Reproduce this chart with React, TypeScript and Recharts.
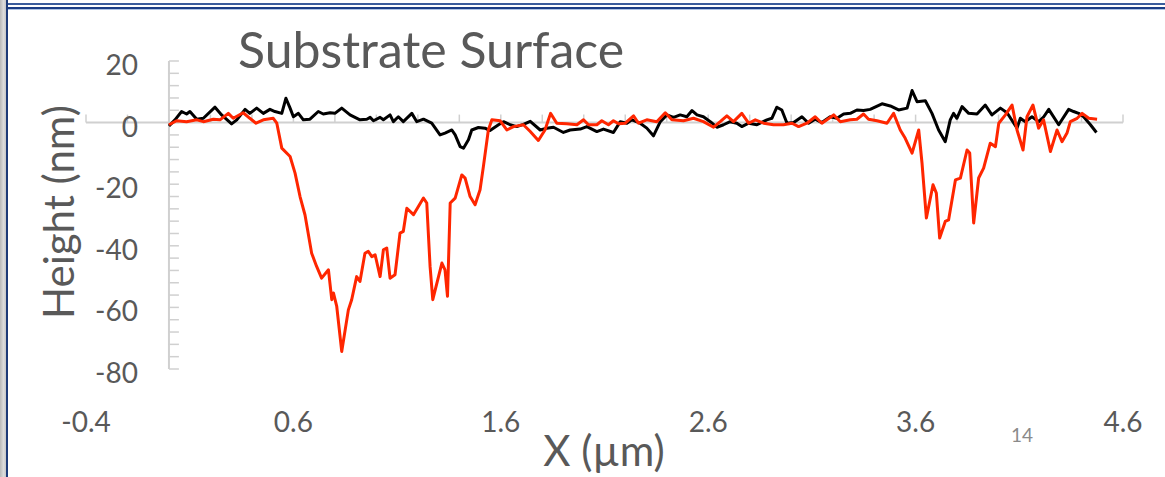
import { LineChart, Line, XAxis, YAxis, ReferenceLine } from "recharts";

// axis ticks
const xTicks = [-0.4, 0.6, 1.6, 2.6, 3.6, 4.6];
const yTicks = [-80, -60, -40, -20, 0, 20];
const xMinorTicks = [
  -0.4, -0.2, 0, 0.2, 0.4, 0.6, 0.8, 1, 1.2, 1.4, 1.6, 1.8, 2, 2.2, 2.4, 2.6,
  2.8, 3, 3.2, 3.4, 3.6, 3.8, 4, 4.2, 4.4, 4.6,
];
const yMinorTicks = [
  -80, -76, -72, -68, -64, -60, -56, -52, -48, -44, -40, -36, -32, -28, -24,
  -20, -16, -12, -8, -4, 0, 4, 8, 12, 16, 20,
];

// black profile (x in µm, height in nm)
const flatX = [
  0.0, 0.029, 0.061, 0.085, 0.101, 0.134, 0.166, 0.222, 0.254, 0.302, 0.327,
  0.367, 0.39, 0.423, 0.455, 0.487, 0.511, 0.544, 0.564, 0.584, 0.6, 0.624,
  0.648, 0.68, 0.72, 0.744, 0.777, 0.8, 0.833, 0.873, 0.921, 0.954, 0.97,
  0.986, 1.018, 1.034, 1.066, 1.082, 1.106, 1.13, 1.171, 1.195, 1.227, 1.267,
  1.307, 1.331, 1.364, 1.38, 1.404, 1.42, 1.444, 1.46, 1.492, 1.524, 1.548,
  1.589, 1.613, 1.645, 1.677, 1.709, 1.742, 1.79, 1.822, 1.854, 1.902, 1.934,
  1.983, 2.015, 2.063, 2.095, 2.143, 2.176, 2.208, 2.232, 2.272, 2.304, 2.336,
  2.369, 2.401, 2.433, 2.465, 2.497, 2.522, 2.546, 2.577, 2.61, 2.642, 2.674,
  2.706, 2.738, 2.762, 2.795, 2.835, 2.883, 2.907, 2.931, 2.955, 2.98, 3.012,
  3.052, 3.084, 3.116, 3.148, 3.188, 3.221, 3.253, 3.285, 3.317, 3.349, 3.381,
  3.438, 3.478, 3.518, 3.559, 3.583, 3.607, 3.647, 3.679, 3.711, 3.743, 3.767,
  3.783, 3.799, 3.824, 3.856, 3.896, 3.936, 3.968, 4.009, 4.041, 4.089, 4.105,
  4.129, 4.161, 4.194, 4.218, 4.242, 4.29, 4.338, 4.362, 4.386, 4.41, 4.443,
  4.472,
];
const flatY = [
  -1.1, 0.9, 3.6, 2.8, 3.6, 1.1, 1.4, 5.0, 2.5, -0.4, 0.9, 4.3, 3.0, 4.7, 3.0,
  4.3, 3.6, 3.0, 7.9, 4.7, 1.9, 3.0, 0.9, 1.1, 3.6, 2.8, 3.2, 3.0, 4.7, 2.5,
  0.9, 1.1, 1.7, 0.6, 1.7, 0.9, 2.5, 0.3, 1.9, 0.3, 3.0, 0.3, 1.1, -0.2, -4.0,
  -3.4, -2.4, -4.0, -7.8, -8.3, -5.6, -2.4, -1.6, -1.8, -2.6, -0.7, 0.3, -0.7,
  -1.3, -0.6, 0.4, -2.4, -1.8, -1.5, -3.2, -2.4, -2.1, -1.3, -2.9, -2.1, -3.2,
  0.3, -0.2, 0.9, -0.2, -1.8, -4.3, 0.3, 2.5, 1.7, 2.5, 1.9, 3.9, 2.5, 1.9, 0.3,
  -1.5, -0.7, 0.3, -0.2, -1.3, -0.2, -0.7, 0.9, 1.4, 5.0, 4.1, -0.2, 0.0, 1.9,
  -0.2, 1.1, 0.0, 1.9, 1.4, 2.8, 3.0, 4.1, 3.9, 4.3, 6.1, 5.4, 4.1, 4.7, 10.4,
  6.8, 7.1, 3.0, -2.4, -6.2, 0.9, 3.0, 1.4, 5.2, 3.0, 2.8, 5.7, 2.5, 4.7, 3.2,
  -1.8, 1.4, 0.3, 1.9, 0.3, 1.9, 4.3, -0.7, 4.3, 3.6, 3.0, 1.9, -0.7, -3.2,
];

// red profile
const pitX = [
  0.0, 0.037, 0.085, 0.134, 0.166, 0.214, 0.246, 0.286, 0.31, 0.358, 0.39,
  0.42, 0.455, 0.503, 0.52, 0.544, 0.584, 0.608, 0.632, 0.656, 0.688, 0.712,
  0.736, 0.769, 0.785, 0.793, 0.809, 0.833, 0.865, 0.881, 0.905, 0.921, 0.945,
  0.961, 0.978, 0.994, 1.018, 1.034, 1.05, 1.066, 1.09, 1.114, 1.13, 1.147,
  1.179, 1.227, 1.243, 1.259, 1.272, 1.316, 1.331, 1.343, 1.356, 1.38, 1.412,
  1.428, 1.452, 1.476, 1.5, 1.516, 1.54, 1.557, 1.597, 1.629, 1.661, 1.709,
  1.742, 1.781, 1.813, 1.84, 1.87, 1.918, 1.967, 1.999, 2.023, 2.063, 2.087,
  2.119, 2.143, 2.168, 2.2, 2.24, 2.264, 2.304, 2.352, 2.393, 2.425, 2.481,
  2.529, 2.577, 2.626, 2.658, 2.69, 2.722, 2.762, 2.795, 2.827, 2.867, 2.915,
  2.963, 3.004, 3.036, 3.076, 3.116, 3.148, 3.205, 3.237, 3.285, 3.317, 3.349,
  3.373, 3.414, 3.462, 3.494, 3.526, 3.55, 3.583, 3.615, 3.631, 3.652, 3.684,
  3.7, 3.716, 3.743, 3.759, 3.792, 3.816, 3.848, 3.861, 3.88, 3.904, 3.928,
  3.96, 3.985, 4.001, 4.033, 4.065, 4.089, 4.118, 4.137, 4.166, 4.193, 4.217,
  4.25, 4.282, 4.306, 4.33, 4.346, 4.379, 4.403, 4.435, 4.475,
];
const pitY = [
  -0.7, 0.6, 0.3, 0.9, 0.3, 1.1, 0.9, 3.0, 1.4, 3.2, 1.4, -0.2, 0.9, 1.4, -0.2,
  -8.3, -11.0, -16.4, -24.0, -30.0, -42.4, -46.7, -50.5, -47.8, -57.5, -55.3,
  -59.7, -74.3, -60.8, -57.5, -50.0, -51.6, -42.4, -41.8, -43.5, -42.9, -50.0,
  -41.3, -40.7, -50.5, -49.4, -35.9, -35.3, -27.8, -29.9, -24.5, -26.1, -46.7,
  -57.5, -45.6, -47.8, -56.4, -26.1, -24.5, -17.0, -18.0, -24.0, -26.7, -21.8,
  -14.3, -2.4, 0.9, 0.6, -2.4, -1.3, -0.7, -2.9, -5.8, -2.4, 3.0, -0.2, -0.4,
  -0.7, 0.9, -0.7, -0.7, 0.6, -0.7, 0.6, -0.4, -0.2, 2.2, -0.2, 0.9, 0.3, 3.2,
  0.9, 0.6, 1.4, 0.3, -1.5, 0.3, 2.2, 0.3, 3.0, -0.2, 0.9, -0.2, -0.7, -0.7,
  -0.2, -1.3, -0.2, 1.9, -0.2, 2.5, 0.3, 0.9, 1.1, 2.8, 1.1, 0.6, -0.2, 3.0,
  -2.4, -5.1, -9.9, -2.4, -13.2, -31.0, -20.2, -22.9, -37.5, -32.1, -31.6,
  -18.6, -18.0, -8.9, -9.9, -32.6, -18.0, -14.8, -6.7, -7.8, -0.2, 2.5, 5.7,
  -2.4, -8.9, 1.9, 5.7, -1.8, 0.9, -9.4, -2.4, -6.2, -3.4, 0.3, 1.4, 3.0, 1.4,
  1.1,
];

const flatData = flatX.map((x, i) => ({ x, y: flatY[i] }));
const pitData = pitX.map((x, i) => ({ x, y: pitY[i] }));

const FONT = "Lato, 'Open Sans', sans-serif";
const TEXT = "#595959";
const AXIS = "#d0d0d0";

function XTick({ x, y, payload }: any) {
  return (
    <text x={x} y={y + 63} textAnchor="middle" fontFamily={FONT} fontSize={28} fill={TEXT}>
      {payload.value}
    </text>
  );
}

function YTick({ x, y, payload }: any) {
  return (
    <text x={x + 52} y={y + 14} textAnchor="end" fontFamily={FONT} fontSize={28} fill={TEXT}>
      {payload.value}
    </text>
  );
}

export default function App() {
  return (
    <div
      style={{
        position: "relative",
        width: 1165,
        height: 477,
        overflow: "hidden",
        background: "#fff",
      }}
    >
      <style>{`body{margin:0}`}</style>
      <LineChart
        width={1165}
        height={477}
        data={flatData}
        margin={{ top: 61, right: 42, bottom: 0, left: 0 }}
        style={{ position: "absolute", left: 0, top: 0 }}
      >
        <XAxis
          type="number"
          dataKey="x"
          domain={[-0.4, 4.6]}
          ticks={xTicks}
          interval={0}
          height={108}
          axisLine={false}
          tickLine={false}
          tickSize={0}
          tickMargin={0}
          tick={<XTick />}
        />
        <YAxis
          type="number"
          domain={[-80, 20]}
          ticks={yTicks}
          interval={0}
          width={86}
          axisLine={false}
          tickLine={false}
          tickSize={0}
          tickMargin={0}
          tick={<YTick />}
        />
        <ReferenceLine y={0} stroke={AXIS} strokeWidth={2} />
        <ReferenceLine x={0} stroke={AXIS} strokeWidth={2} />
        {yMinorTicks.map((v) => (
          <ReferenceLine
            key={`ym${v}`}
            segment={[
              { x: 0, y: v },
              { x: 0.048, y: v },
            ]}
            stroke={AXIS}
            strokeWidth={1.5}
          />
        ))}
        {xMinorTicks.map((v) => (
          <ReferenceLine
            key={`xm${v}`}
            segment={[
              { x: v, y: 0 },
              { x: v, y: 2.6 },
            ]}
            stroke={AXIS}
            strokeWidth={1.5}
          />
        ))}
        <Line
          data={flatData}
          dataKey="y"
          type="linear"
          stroke="#000000"
          strokeWidth={3}
          strokeLinejoin="round"
          dot={false}
          isAnimationActive={false}
        />
        <Line
          data={pitData}
          dataKey="y"
          type="linear"
          stroke="#ff2600"
          strokeWidth={3}
          strokeLinejoin="round"
          dot={false}
          isAnimationActive={false}
        />
      </LineChart>

      <svg
        width={1165}
        height={477}
        style={{ position: "absolute", left: 0, top: 0, pointerEvents: "none" }}
      >
        <text x={238} y={68} fontFamily={FONT} fontSize={50} fill={TEXT}>
          Substrate Surface
        </text>
        <text
          transform="translate(74,212) rotate(-90)"
          textAnchor="middle"
          fontFamily={FONT}
          fontSize={42}
          fill={TEXT}
        >
          Height (nm)
        </text>
        <text x={604} y={466} textAnchor="middle" fontFamily={FONT} fontSize={42} fill={TEXT}>
          X (µm)
        </text>
        <text x={1022} y={442} textAnchor="middle" fontFamily={FONT} fontSize={19} fill="#8a8a8a">
          14
        </text>
      </svg>

      {/* slide frame */}
      <div
        style={{
          position: "absolute",
          left: 0,
          top: 0,
          width: 6,
          height: 477,
          background: "linear-gradient(90deg, #b8b8b8, #dcdcdc 60%, #c6c6c6)",
        }}
      />
      <div style={{ position: "absolute", left: 6, top: 0, width: 2, height: 477, background: "#1c3a78" }} />
      <div style={{ position: "absolute", left: 8, top: 3, right: 0, height: 2, background: "#3b5c9c" }} />
      <div style={{ position: "absolute", left: 8, top: 7, right: 0, height: 2, background: "#1c3d85" }} />
      <div style={{ position: "absolute", left: 8, top: 9, right: 0, height: 1, background: "#b0c4e4" }} />
    </div>
  );
}
